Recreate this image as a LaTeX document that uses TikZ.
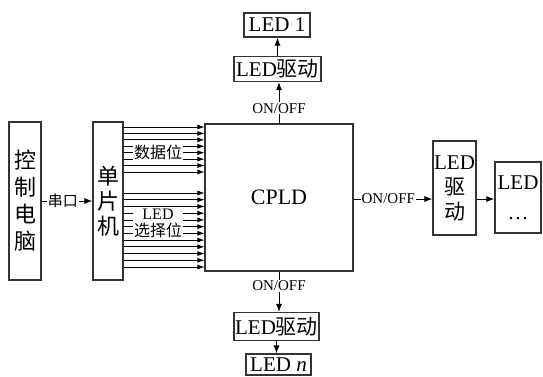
\documentclass[tikz,border=0pt]{standalone}
\usepackage{fontspec}
\setmainfont{Liberation Serif}
\newfontfamily\cjk{Noto Sans CJK SC}
\usetikzlibrary{arrows.meta}
\begin{document}
\begin{tikzpicture}[x=1pt,y=1pt,
  box/.style={draw=black!80,line width=1.1pt,inner sep=0pt,align=center},
  conn/.style={draw=black,line width=1pt,-{Latex[length=8pt,width=6pt]}},
  bus/.style={draw=black,line width=0.8pt,-{Latex[length=7pt,width=5pt]}},
  lbl/.style={fill=white,inner sep=1pt,font=\fontsize{15}{17}\selectfont},
  big/.style={font=\fontsize{21}{26}\selectfont}]
\useasboundingbox (0,0) rectangle (543,376);
% boxes
\node[box,minimum width=32,minimum height=158,font=\cjk\fontsize{22}{27}\selectfont] (pc) at (25,175) {控\\制\\电\\脑};
\node[box,minimum width=30,minimum height=158,font=\cjk\fontsize{22}{25}\selectfont] (mcu) at (108,175) {单\\片\\机};
\node[box,minimum width=148,minimum height=147,font=\fontsize{22}{26}\selectfont] (cpld) at (279,178.5) {CPLD};
\node[box,big,minimum width=87,minimum height=25] (drv1) at (277.5,307) {LED{\cjk 驱动}};
\node[box,big,minimum width=66,minimum height=24] (led1) at (277,351) {LED 1};
\node[box,big,minimum width=85,minimum height=28] (drvn) at (276.5,49.5) {LED{\cjk 驱动}};
\node[box,big,minimum width=65,minimum height=21] (ledn) at (278.5,11.5) {LED \textit{n}};
\node[box,big,minimum width=43,minimum height=94] (drvr) at (454.5,188) {LED\\[-1pt]{\cjk 驱}\\[-1pt]{\cjk 动}};
\node[box,big,minimum width=46,minimum height=71] (ledr) at (518,178.5) {LED\\[4pt]\ldots};
% serial link
\draw[conn] (pc.east |- mcu.west) -- node[lbl,pos=0.42,font=\cjk\fontsize{15}{17}\selectfont] {串口} (mcu.west);
% bus lines
\foreach \i/\y in {1/249,2/242.57,3/236.14,4/229.71,5/223.29,6/216.86,7/210.43,8/204,
  9/183,10/176.27,11/169.55,12/162.82,13/156.09,14/149.36,15/142.64,16/135.91,17/129.18,18/122.45,19/115.73,20/109}{
  \coordinate (b\i) at (0,\y);
  \draw[bus] (mcu.east |- b\i) -- (cpld.west |- b\i);
}
\node[lbl,font=\cjk\fontsize{16}{18}\selectfont] (dlab) at (158,224) {数据位};
\node[lbl,align=center,font=\fontsize{16}{17}\selectfont] (slab) at (158,152.5) {LED\\{\cjk 选择位}};
% outputs
\draw[conn] (cpld.north) -- node[lbl,pos=0.37] {ON/OFF} (cpld.north |- drv1.south);
\draw[conn] (drv1.north) -- (drv1.north |- led1.south);
\draw[conn] (cpld.south) -- node[lbl,pos=0.35] {ON/OFF} (cpld.south |- drvn.north);
\draw[conn] (drvn.south) -- (drvn.south |- ledn.north);
\coordinate (ry) at (0,177);
\draw[conn] (cpld.east |- ry) -- node[lbl,pos=0.44] {ON/OFF} (drvr.west |- ry);
\draw[conn] (drvr.east |- ry) -- (ledr.west |- ry);
\end{tikzpicture}
\end{document}
